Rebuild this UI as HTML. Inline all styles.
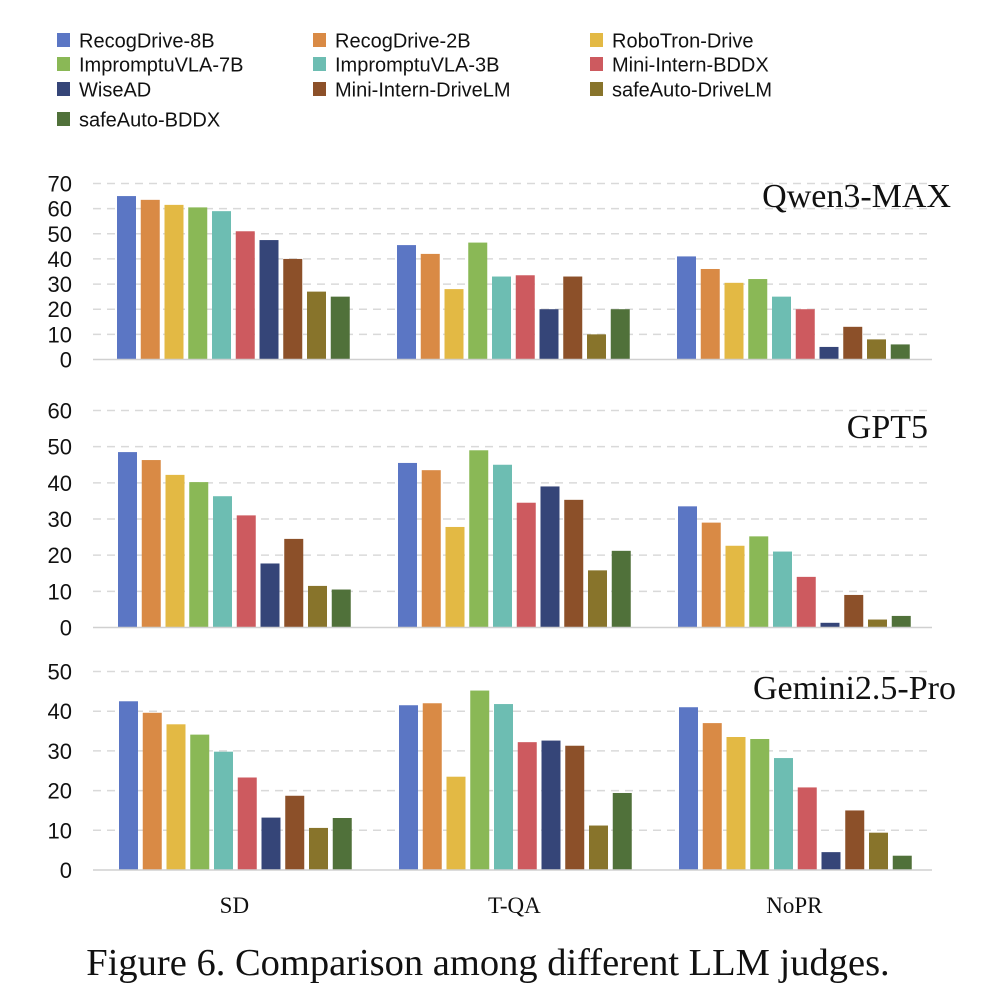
<!DOCTYPE html>
<html><head><meta charset="utf-8">
<style>
html,body{margin:0;padding:0;background:#fff;}
body{width:1001px;height:1008px;overflow:hidden;}
svg{display:block;}
</style></head>
<body>
<svg id="chart" width="1001" height="1008" viewBox="0 0 1001 1008" xmlns="http://www.w3.org/2000/svg">
<g id="legend"></g>
<g id="panels"></g>
<text x="488" y="975" text-anchor="middle" font-family="Liberation Serif, serif" font-size="38.5" fill="#111">Figure 6. Comparison among different LLM judges.</text>
</svg>
<script>
const categories = ["SD", "T-QA", "NoPR"];
const seriesNames = ["RecogDrive-8B","RecogDrive-2B","RoboTron-Drive","ImpromptuVLA-7B","ImpromptuVLA-3B","Mini-Intern-BDDX","WiseAD","Mini-Intern-DriveLM","safeAuto-DriveLM","safeAuto-BDDX"];
const seriesColors = ["#5B76C4","#D98A45","#E3B944","#8AB856","#6DBDB2","#CD5A5F","#354578","#8C5029","#88742B","#50713A"];
const judges = ["Qwen3-MAX","GPT5","Gemini2.5-Pro"];
const qwenSD   = [65,63.5,61.5,60.5,59,51,47.5,40,27,25];
const qwenTQA  = [45.5,42,28,46.5,33,33.5,20,33,10,20];
const qwenNoPR = [41,36,30.5,32,25,20,5,13,8,6];
const gptSD    = [48.5,46.3,42.2,40.2,36.3,31,17.7,24.5,11.5,10.5];
const gptTQA   = [45.5,43.5,27.8,49,45,34.5,39,35.3,15.8,21.2];
const gptNoPR  = [33.5,29,22.6,25.2,21,14,1.3,9,2.2,3.2];
const gemSD    = [42.5,39.6,36.7,34.1,29.8,23.3,13.2,18.7,10.6,13.1];
const gemTQA   = [41.5,42,23.5,45.2,41.8,32.2,32.6,31.3,11.2,19.4];
const gemNoPR  = [41,37,33.5,33,28.2,20.8,4.5,15,9.4,3.6];
const qwenTicks = [0,10,20,30,40,50,60,70];
const gptTicks  = [0,10,20,30,40,50,60];
const gemTicks  = [0,10,20,30,40,50];

const NS="http://www.w3.org/2000/svg";
function mk(tag, attrs, parent){const e=document.createElementNS(NS,tag);for(const k in attrs)e.setAttribute(k,attrs[k]);parent.appendChild(e);return e;}

const lg=document.getElementById('legend');
const colX=[57,313,590], rowY=[40,64,89,119];
seriesNames.forEach((n,i)=>{
  const cx=colX[i%3], cy=rowY[Math.floor(i/3)];
  const r=mk('rect',{x:cx,y:cy-7,width:13,height:14,fill:seriesColors[i]},lg);
  
  
  const t=mk('text',{x:cx+22,y:cy+7.5,'font-family':'Liberation Sans, sans-serif','font-size':'20',fill:'#111'},lg);
  t.textContent=n;
  
  
});

const panelsG=document.getElementById('panels');
const panels=[
  {name:judges[0],data:[qwenSD,qwenTQA,qwenNoPR],ticks:qwenTicks,y0:359.5,yTop:183.5,x0:117,label:{x:951,y:207}},
  {name:judges[1],data:[gptSD,gptTQA,gptNoPR],ticks:gptTicks,y0:627.5,yTop:410.5,x0:118,label:{x:928,y:438}},
  {name:judges[2],data:[gemSD,gemTQA,gemNoPR],ticks:gemTicks,y0:870,yTop:671.5,x0:119,label:{x:956,y:699}}
];
const gridX1=93, gridX2=932, groupW=280, step=23.75, barW=19;
panels.forEach((p,pi)=>{
  const g=mk('g',{},panelsG);
  
  
  const maxT=p.ticks[p.ticks.length-1];
  const yScale=v=>p.y0-(v/maxT)*(p.y0-p.yTop);
  p.ticks.forEach(t=>{
    const y=yScale(t);
    if(t>0){
      const l=mk('line',{x1:gridX1,x2:gridX2,y1:y,y2:y,stroke:'#d9d9d9','stroke-width':1.5,'stroke-dasharray':'8,6'},g);
      
      
    }
    const tx=mk('text',{x:72,y:y+8,'text-anchor':'end','font-family':'Liberation Sans, sans-serif','font-size':'22',fill:'#111'},g);
    tx.textContent=t;
    
    
  });
  p.data.forEach((vals,ci)=>{
    vals.forEach((v,si)=>{
      const x=p.x0+ci*groupW+si*step;
      const y=yScale(v);
      const r=mk('rect',{x:x,y:y,width:barW,height:p.y0-y,fill:seriesColors[si]},g);
      
      
    });
  });
  const base=mk('line',{x1:gridX1,x2:gridX2,y1:p.y0,y2:p.y0,stroke:'#d0d0d0','stroke-width':1.5},g);
  
  
  const lt=mk('text',{x:p.label.x,y:p.label.y,'text-anchor':'end','font-family':'Liberation Serif, serif','font-size':'34',fill:'#111'},g);
  lt.textContent=p.name;
  
  
});
categories.forEach((c,ci)=>{
  const cx=118+ci*groupW+(9*step+barW)/2;
  const t=mk('text',{x:cx,y:913,'text-anchor':'middle','font-family':'Liberation Serif, serif','font-size':'23',fill:'#111'},panelsG);
  t.textContent=c;
  
  
});
</script>
</body></html>
